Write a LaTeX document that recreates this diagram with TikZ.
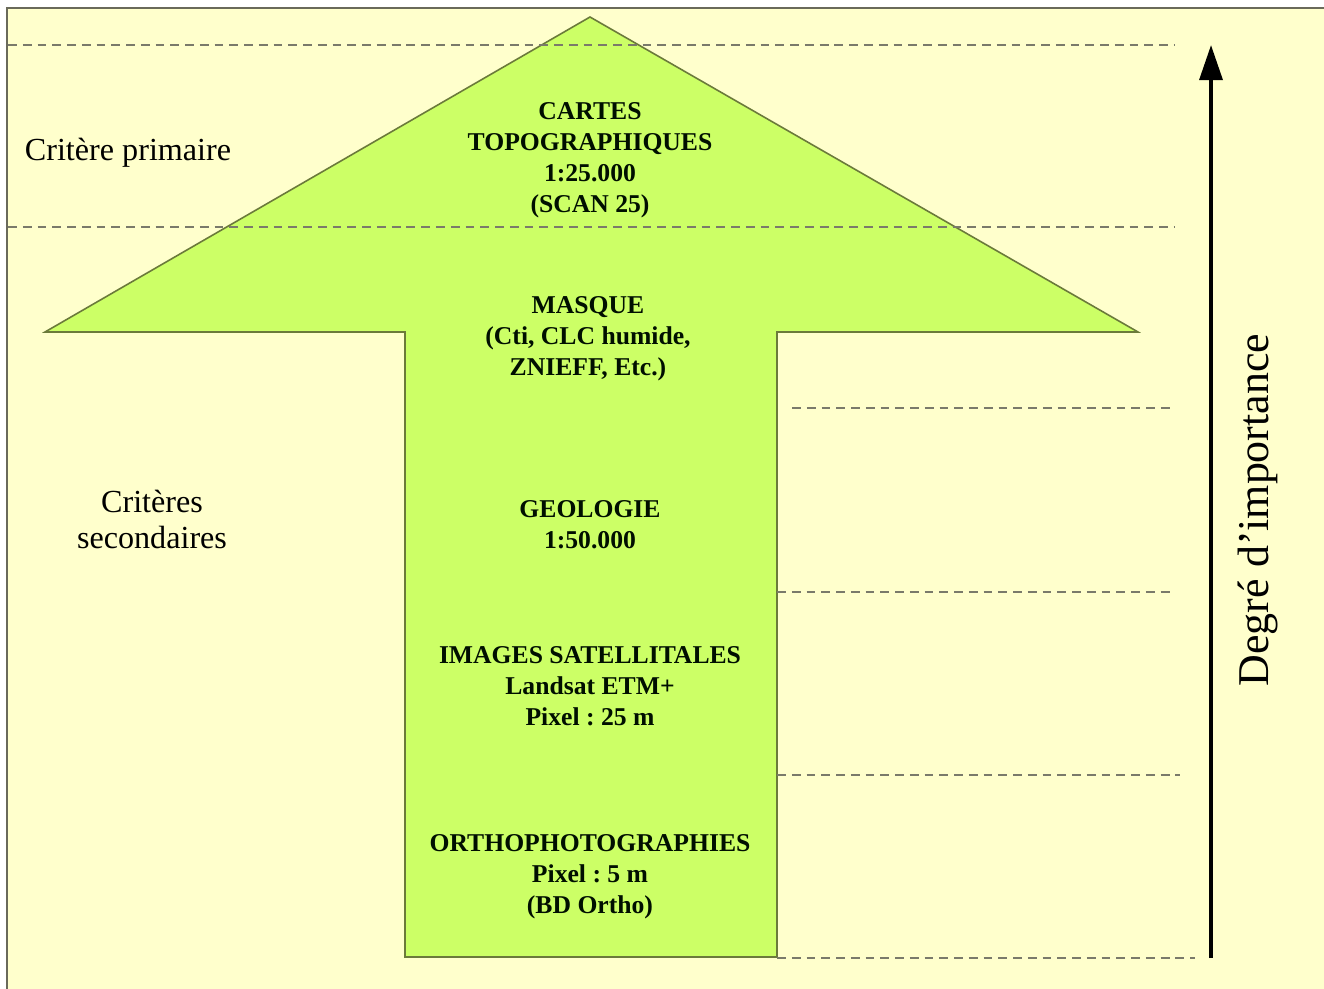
\documentclass[tikz,border=0pt]{standalone}
\usepackage{fontspec}
\setmainfont{Liberation Serif}
\usetikzlibrary{arrows.meta}
\frenchspacing
\definecolor{bgyellow}{HTML}{FFFFCC}
\definecolor{arrowgreen}{HTML}{CCFF66}
\definecolor{arrowedge}{HTML}{6B7A3A}
\definecolor{dashgray}{HTML}{7A7A6A}
\definecolor{framegray}{HTML}{6A6A5A}
\tikzset{
  lvl/.style={draw=dashgray, line width=1.1pt, dash pattern=on 5pt off 3.4pt},
  intext/.style={font=\bfseries\fontsize{14.6}{17.6}\selectfont, align=center, text=black!85!green!40!black},
  sidetext/.style={font=\fontsize{18.3}{20.5}\selectfont, align=center},
}
\begin{document}
\begin{tikzpicture}[x=0.02cm,y=-0.02cm]
\useasboundingbox (0,0) rectangle (1324,989);
\fill[white] (0,0) rectangle (1324,989);
\fill[bgyellow] (7,8) rectangle (1324,989);
\draw[framegray, line width=1.3pt] (7,989) -- (7,8) -- (1324,8);
% big arrow
\draw[fill=arrowgreen, draw=arrowedge, line width=0.9pt, line join=miter]
  (590,17) -- (1138,332) -- (777,332) -- (777,957) -- (405,957) -- (405,332) -- (45,332) -- cycle;
% dashed level lines
\coordinate (l1a) at (8,45);   \coordinate (l1b) at (1175,45);
\coordinate (l2a) at (8,227);  \coordinate (l2b) at (1175,227);
\coordinate (l3a) at (792,408); \coordinate (l3b) at (1175,408);
\coordinate (l4a) at (777,592); \coordinate (l4b) at (1175,592);
\coordinate (l5a) at (777,775); \coordinate (l5b) at (1180,775);
\coordinate (l6a) at (777,958); \coordinate (l6b) at (1195,958);
\draw[lvl] (l1a) -- (l1b);
\draw[lvl] (l2a) -- (l2b);
\draw[lvl] (l3a) -- (l3b);
\draw[lvl] (l4a) -- (l4b);
\draw[lvl] (l5a) -- (l5b);
\draw[lvl] (l6a) -- (l6b);
% texts in arrow
\node[intext] (cartes) at (590,160) {CARTES\\TOPOGRAPHIQUES\\1:25.000\\(SCAN 25)};
\node[intext] (masque) at (588,339) {MASQUE\\(Cti, CLC humide,\\ZNIEFF, Etc.)};
\node[intext] (geol) at (590,525) {GEOLOGIE\\1:50.000};
\node[intext] (images) at (590,686) {IMAGES SATELLITALES\\Landsat ETM+\\Pixel : 25 m};
\node[intext] (ortho) at (590,877) {ORTHOPHOTOGRAPHIES\\Pixel : 5 m\\(BD Ortho)};
% side labels
\node[sidetext] (prim) at (128,153) {Critère primaire};
\node[sidetext] (sec) at (152,519) {Critères\\secondaires};
% importance axis
\coordinate (axbot) at (1211,958);
\coordinate (axtop) at (1211,45);
\draw[line width=2.3pt, -{Triangle[length=20pt,width=13pt]}] (axbot) -- (axtop);
\node[rotate=90, font=\fontsize{25}{28}\selectfont] (deg) at (1258,510) {Degré d’importance};
\end{tikzpicture}
\end{document}
